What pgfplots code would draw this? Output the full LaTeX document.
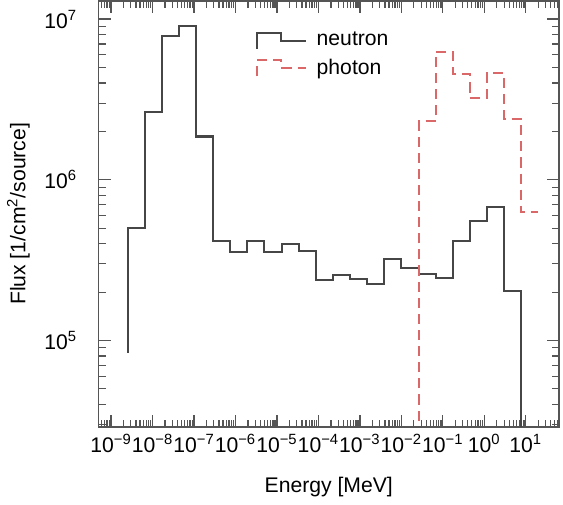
\documentclass[border=0pt]{standalone}
\usepackage{fontspec}
\setmainfont{Liberation Sans}
\usepackage{pgfplots}
\pgfplotsset{compat=1.18}
\definecolor{framegray}{RGB}{85,85,85}
\definecolor{neutrongray}{RGB}{70,70,70}
\definecolor{photonred}{RGB}{218,104,104}
\begin{document}
\fontsize{10.5}{12.6}\selectfont
\begin{tikzpicture}
\begin{axis}[
    width=228.5pt, height=211.5pt, scale only axis,
    xmode=log, ymode=log,
    xmin=5e-10, xmax=6.3e1,
    ymin=2.9e4, ymax=1.3e7,
    xtick={1e-10,1e-9,1e-8,1e-7,1e-6,1e-5,1e-4,1e-3,1e-2,1e-1,1e0,1e1,1e2},
    xticklabels={,10\textsuperscript{−9},10\textsuperscript{−8},10\textsuperscript{−7},10\textsuperscript{−6},10\textsuperscript{−5},10\textsuperscript{−4},10\textsuperscript{−3},10\textsuperscript{−2},10\textsuperscript{−1},10\textsuperscript{0},10\textsuperscript{1},},
    ytick={1e4,1e5,1e6,1e7,1e8},
    yticklabels={,10\textsuperscript{5},10\textsuperscript{6},10\textsuperscript{7},},
    xlabel={Energy [MeV]},
    ylabel={Flux [1/cm\textsuperscript{2}/source]},
    xlabel style={yshift=-5pt},
    axis line style={framegray, line width=0.8pt},
    every tick/.style={framegray, line width=0.6pt},
    major tick length=6pt, minor tick length=3.5pt,
    yticklabel style={xshift=-7pt},
    legend style={at={(0.3285,0.946)}, anchor=north west, draw=none, fill=none, row sep=1pt},
    legend cell align=left,
    legend image code/.code={
        \draw[#1] (0pt,-4pt) -- (0pt,4pt) -- (12pt,4pt) -- (12pt,0pt) -- (24pt,0pt);
    },
]

% neutron spectrum
\addplot[const plot, neutrongray, line width=1pt] coordinates {
    (2.49e-9, 8.4e4) (2.49e-9, 4.98e5) (6.44e-9, 2.64e6) (1.66e-8, 7.89e6)
    (4.31e-8, 9.06e6) (1.11e-7, 1.86e6) (2.88e-7, 4.14e5) (7.45e-7, 3.54e5)
    (1.93e-6, 4.18e5) (4.99e-6, 3.54e5) (1.29e-5, 3.96e5) (3.34e-5, 3.63e5)
    (8.63e-5, 2.38e5) (2.23e-4, 2.56e5) (5.78e-4, 2.42e5) (1.49e-3, 2.26e5)
    (3.86e-3, 3.20e5) (1.00e-2, 2.82e5) (2.59e-2, 2.58e5) (6.69e-2, 2.46e5)
    (0.173, 4.18e5) (0.448, 5.57e5) (1.158, 6.77e5) (2.99, 2.02e5)
    (7.74, 1e4)
};
\addlegendentry{\hspace*{3pt}neutron}

% photon spectrum
\addplot[const plot, photonred, line width=1pt, dash pattern=on 5pt off 3pt] coordinates {
    (2.59e-2, 1e4) (2.59e-2, 2.31e6) (6.69e-2, 6.28e6) (0.173, 4.53e6)
    (0.448, 3.22e6) (1.158, 4.64e6) (2.99, 2.40e6) (7.74, 6.27e5)
    (20.0, 6.27e5)
};
\addlegendentry{\hspace*{3pt}photon}

\end{axis}
\path (current axis.south east) ++(2pt,0);
\end{tikzpicture}
\end{document}
